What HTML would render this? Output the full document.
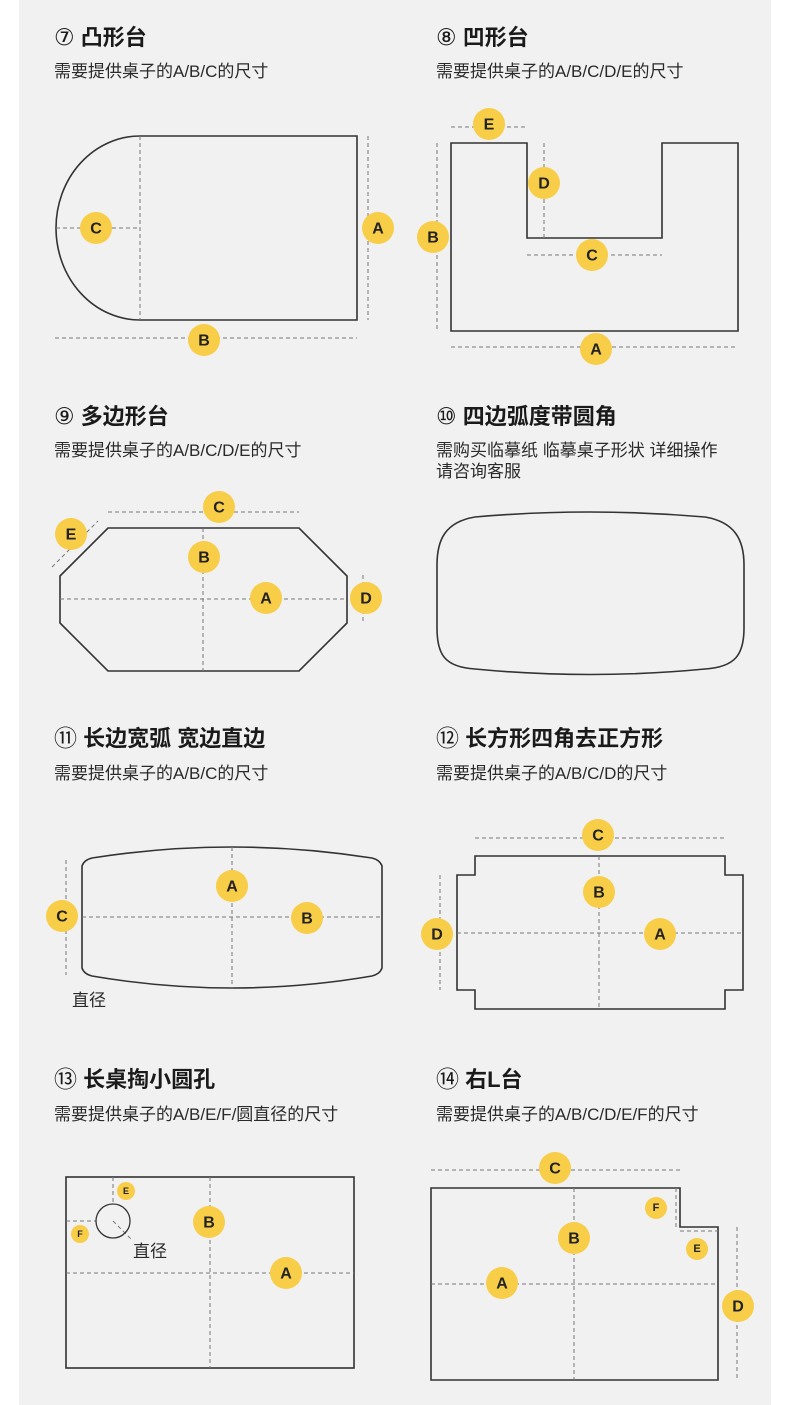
<!DOCTYPE html>
<html><head><meta charset="utf-8"><style>
html,body{margin:0;padding:0;background:#fff;}
svg{display:block;}
.t{font-family:"Liberation Sans","Noto Sans CJK SC",sans-serif;font-weight:bold;font-size:22px;fill:#1a1a1a;}
.n{font-family:"DejaVu Sans","Noto Sans CJK SC",sans-serif;font-weight:normal;font-size:23px;}
.s{font-family:"Liberation Sans","Noto Sans CJK SC",sans-serif;font-size:17px;fill:#2a2a2a;}
.l{font-family:"Liberation Sans","DejaVu Sans",sans-serif;font-weight:bold;font-size:16px;fill:#222;text-anchor:middle;dominant-baseline:central;}
.ls{font-family:"Liberation Sans","DejaVu Sans",sans-serif;font-weight:bold;font-size:9px;fill:#222;text-anchor:middle;dominant-baseline:central;}
.o{fill:none;stroke:#333;stroke-width:1.6;}
.d{fill:none;stroke:#777;stroke-width:1;stroke-dasharray:4 3;}
.c{fill:#f8cd48;}
</style></head><body>
<svg width="790" height="1405" viewBox="0 0 790 1405" xmlns="http://www.w3.org/2000/svg">
<rect x="0" y="0" width="790" height="1405" fill="#fff"/>
<rect x="19" y="0" width="752" height="1405" fill="#f1f1f1"/>

<!-- 7 -->
<text class="t" x="54" y="45"><tspan class="n">⑦</tspan> 凸形台</text>
<text class="s" x="54" y="77">需要提供桌子的A/B/C的尺寸</text>
<path class="o" d="M140,136 L357,136 L357,320 L140,320 A84,92 0 0 1 140,136 Z"/>
<line class="d" x1="140" y1="136" x2="140" y2="320"/>
<line class="d" x1="56" y1="228" x2="140" y2="228"/>
<line class="d" x1="368" y1="136" x2="368" y2="320"/>
<line class="d" x1="55" y1="338" x2="357" y2="338"/>
<circle class="c" cx="96" cy="228" r="16"/><text class="l" x="96" y="229">C</text>
<circle class="c" cx="378" cy="228" r="16"/><text class="l" x="378" y="229">A</text>
<circle class="c" cx="204" cy="340" r="16"/><text class="l" x="204" y="341">B</text>

<!-- 8 -->
<text class="t" x="436" y="45"><tspan class="n">⑧</tspan> 凹形台</text>
<text class="s" x="436" y="77">需要提供桌子的A/B/C/D/E的尺寸</text>
<path class="o" d="M451,143 L527,143 L527,238 L662,238 L662,143 L738,143 L738,331 L451,331 Z"/>
<line class="d" x1="451" y1="127" x2="527" y2="127"/>
<line class="d" x1="544" y1="143" x2="544" y2="238"/>
<line class="d" x1="527" y1="255" x2="662" y2="255"/>
<line class="d" x1="437" y1="143" x2="437" y2="331"/>
<line class="d" x1="451" y1="347" x2="738" y2="347"/>
<circle class="c" cx="489" cy="124" r="16"/><text class="l" x="489" y="125">E</text>
<circle class="c" cx="544" cy="183" r="16"/><text class="l" x="544" y="184">D</text>
<circle class="c" cx="592" cy="255" r="16"/><text class="l" x="592" y="256">C</text>
<circle class="c" cx="433" cy="237" r="16"/><text class="l" x="433" y="238">B</text>
<circle class="c" cx="596" cy="349" r="16"/><text class="l" x="596" y="350">A</text>

<!-- 9 -->
<text class="t" x="54" y="424"><tspan class="n">⑨</tspan> 多边形台</text>
<text class="s" x="54" y="456">需要提供桌子的A/B/C/D/E的尺寸</text>
<path class="o" d="M108,528 L299,528 L347,576 L347,623 L299,671 L108,671 L60,623 L60,576 Z"/>
<line class="d" x1="203" y1="528" x2="203" y2="671"/>
<line class="d" x1="60" y1="599" x2="347" y2="599"/>
<line class="d" x1="108" y1="512" x2="299" y2="512"/>
<line class="d" x1="363" y1="575" x2="363" y2="623"/>
<line class="d" x1="52" y1="567" x2="98" y2="521"/>
<circle class="c" cx="219" cy="507" r="16"/><text class="l" x="219" y="508">C</text>
<circle class="c" cx="204" cy="557" r="16"/><text class="l" x="204" y="558">B</text>
<circle class="c" cx="266" cy="598" r="16"/><text class="l" x="266" y="599">A</text>
<circle class="c" cx="366" cy="598" r="16"/><text class="l" x="366" y="599">D</text>
<circle class="c" cx="71" cy="534" r="16"/><text class="l" x="71" y="535">E</text>

<!-- 10 -->
<text class="t" x="436" y="424"><tspan class="n">⑩</tspan> 四边弧度带圆角</text>
<text class="s" x="436" y="456">需购买临摹纸 临摹桌子形状 详细操作</text>
<text class="s" x="436" y="477">请咨询客服</text>
<path class="o" d="M475,517 Q590,507 705,517 C735,522 744,540 744,565 L744,628 C744,655 735,667 705,669 Q590,680 475,669 C445,667 437,655 437,628 L437,565 C437,540 445,522 475,517 Z"/>

<!-- 11 -->
<text class="t" x="54" y="746"><tspan class="n">⑪</tspan> 长边宽弧 宽边直边</text>
<text class="s" x="54" y="779">需要提供桌子的A/B/C的尺寸</text>
<path class="o" d="M82,866 Q84,860 92,858 Q232,836 372,858 Q380,860 382,866 L382,968 Q380,974 372,976 Q232,1000 92,976 Q84,974 82,968 Z"/>
<line class="d" x1="232" y1="847" x2="232" y2="988"/>
<line class="d" x1="82" y1="917" x2="382" y2="917"/>
<line class="d" x1="66" y1="860" x2="66" y2="975"/>
<circle class="c" cx="62" cy="916" r="16"/><text class="l" x="62" y="917">C</text>
<circle class="c" cx="232" cy="886" r="16"/><text class="l" x="232" y="887">A</text>
<circle class="c" cx="307" cy="918" r="16"/><text class="l" x="307" y="919">B</text>
<text class="s" x="72" y="1006">直径</text>

<!-- 12 -->
<text class="t" x="436" y="746"><tspan class="n">⑫</tspan> 长方形四角去正方形</text>
<text class="s" x="436" y="779">需要提供桌子的A/B/C/D的尺寸</text>
<path class="o" d="M475,856 L725,856 L725,875 L743,875 L743,990 L725,990 L725,1009 L475,1009 L475,990 L457,990 L457,875 L475,875 Z"/>
<line class="d" x1="599" y1="856" x2="599" y2="1009"/>
<line class="d" x1="457" y1="933" x2="743" y2="933"/>
<line class="d" x1="475" y1="838" x2="725" y2="838"/>
<line class="d" x1="440" y1="875" x2="440" y2="990"/>
<circle class="c" cx="598" cy="835" r="16"/><text class="l" x="598" y="836">C</text>
<circle class="c" cx="437" cy="934" r="16"/><text class="l" x="437" y="935">D</text>
<circle class="c" cx="599" cy="892" r="16"/><text class="l" x="599" y="893">B</text>
<circle class="c" cx="660" cy="934" r="16"/><text class="l" x="660" y="935">A</text>

<!-- 13 -->
<text class="t" x="54" y="1087"><tspan class="n">⑬</tspan> 长桌掏小圆孔</text>
<text class="s" x="54" y="1120">需要提供桌子的A/B/E/F/圆直径的尺寸</text>
<rect class="o" x="66" y="1177" width="288" height="191"/>
<line class="d" x1="210" y1="1177" x2="210" y2="1368"/>
<line class="d" x1="66" y1="1273" x2="354" y2="1273"/>
<line class="d" x1="113" y1="1177" x2="113" y2="1204"/>
<line class="d" x1="66" y1="1221" x2="96" y2="1221"/>
<line class="d" x1="113" y1="1221" x2="132" y2="1240"/>
<circle class="o" cx="113" cy="1221" r="17" style="stroke-width:1.3"/>
<circle class="c" cx="126" cy="1191" r="9"/><text class="ls" x="126" y="1191">E</text>
<circle class="c" cx="80" cy="1234" r="9"/><text class="ls" x="80" y="1234">F</text>
<circle class="c" cx="209" cy="1222" r="16"/><text class="l" x="209" y="1223">B</text>
<circle class="c" cx="286" cy="1273" r="16"/><text class="l" x="286" y="1274">A</text>
<text class="s" x="133" y="1257">直径</text>

<!-- 14 -->
<text class="t" x="436" y="1087"><tspan class="n">⑭</tspan> 右L台</text>
<text class="s" x="436" y="1120">需要提供桌子的A/B/C/D/E/F的尺寸</text>
<path class="o" d="M431,1188 L680,1188 L680,1227 L718,1227 L718,1380 L431,1380 Z"/>
<line class="d" x1="574" y1="1188" x2="574" y2="1380"/>
<line class="d" x1="431" y1="1284" x2="718" y2="1284"/>
<line class="d" x1="676" y1="1188" x2="676" y2="1227"/>
<line class="d" x1="680" y1="1231" x2="718" y2="1231"/>
<line class="d" x1="431" y1="1170" x2="680" y2="1170"/>
<line class="d" x1="737" y1="1227" x2="737" y2="1380"/>
<circle class="c" cx="555" cy="1168" r="16"/><text class="l" x="555" y="1169">C</text>
<circle class="c" cx="738" cy="1306" r="16"/><text class="l" x="738" y="1307">D</text>
<circle class="c" cx="574" cy="1238" r="16"/><text class="l" x="574" y="1239">B</text>
<circle class="c" cx="502" cy="1283" r="16"/><text class="l" x="502" y="1284">A</text>
<circle class="c" cx="656" cy="1208" r="11"/><text class="ls" x="656" y="1208" style="font-size:11px">F</text>
<circle class="c" cx="697" cy="1249" r="11"/><text class="ls" x="697" y="1249" style="font-size:11px">E</text>
</svg>
</body></html>
